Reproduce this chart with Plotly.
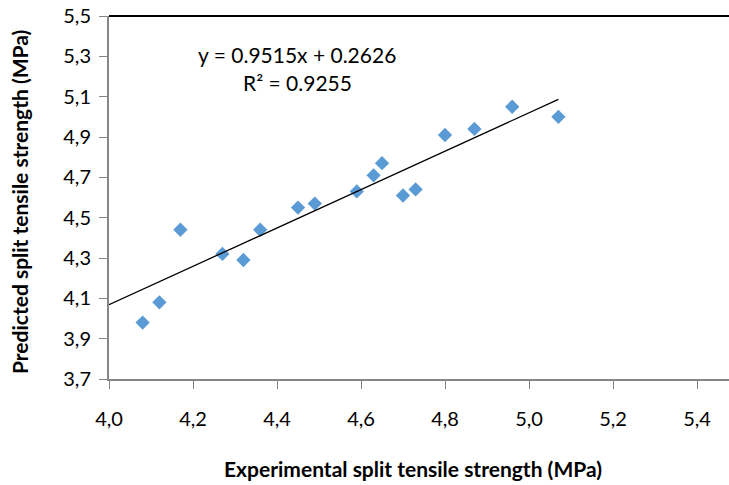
import plotly.graph_objects as go

experimental = [4.08, 4.12, 4.17, 4.27, 4.32, 4.36, 4.45, 4.49, 4.59, 4.63, 4.65, 4.70, 4.73, 4.80, 4.87, 4.96, 5.07]
predicted = [3.98, 4.08, 4.44, 4.32, 4.29, 4.44, 4.55, 4.57, 4.63, 4.71, 4.77, 4.61, 4.64, 4.91, 4.94, 5.05, 5.00]
slope = 0.9515
intercept = 0.2626
r_squared = 0.9255
trend_x = [4.0, 5.07]
x_ticks = [4.0, 4.2, 4.4, 4.6, 4.8, 5.0, 5.2, 5.4]
y_ticks = [3.7, 3.9, 4.1, 4.3, 4.5, 4.7, 4.9, 5.1, 5.3, 5.5]
x_title = "Experimental split tensile strength (MPa)"
y_title = "Predicted split tensile strength (MPa)"

trend_y = [slope * x + intercept for x in trend_x]

W, H = 729, 485
L, T, B = 109, 16, 106
PW, PH = W - L, H - T - B

def px(xp):
    return (xp - L) / PW

def py(yp):
    return 1 - (yp - T) / PH

FONT = "Lato"
fig = go.Figure()
fig.add_trace(go.Scatter(x=experimental, y=predicted, mode="markers",
                         marker=dict(symbol="diamond", size=11, color="#5B9BD5"),
                         showlegend=False))
fig.add_trace(go.Scatter(x=trend_x, y=trend_y, mode="lines",
                         line=dict(color="black", width=1.3), showlegend=False))

fig.add_annotation(xref="paper", yref="paper", x=px(297), y=py(55), xanchor="center", yanchor="middle",
                   text=f"y = {slope}x + {intercept}", showarrow=False,
                   font=dict(family=FONT, size=21, color="black"))
fig.add_annotation(xref="paper", yref="paper", x=px(297), y=py(82), xanchor="center", yanchor="middle",
                   text=f"R² = {r_squared}", showarrow=False,
                   font=dict(family=FONT, size=21, color="black"))
fig.add_annotation(xref="paper", yref="paper", x=px(413), y=py(468), xanchor="center", yanchor="middle",
                   text=f"<b>{x_title}</b>", showarrow=False,
                   font=dict(family=FONT, size=21, color="black"))
fig.add_annotation(xref="paper", yref="paper", x=px(20), y=py(202), xanchor="center", yanchor="middle",
                   text=f"<b>{y_title}</b>", showarrow=False, textangle=-90,
                   font=dict(family=FONT, size=21, color="black"))

fig.add_shape(type="line", xref="paper", yref="paper", x0=0, x1=1, y0=1, y1=1,
              line=dict(color="black", width=2))

fig.update_layout(
    width=W, height=H,
    margin=dict(l=L, r=0, t=T, b=B, autoexpand=False),
    plot_bgcolor="white", paper_bgcolor="white",
    separators=",.",
    font=dict(family=FONT, color="black"),
    xaxis=dict(range=[4.0, 4.0 + PW / 420], tickvals=x_ticks, tickformat=".1f",
               showgrid=False, zeroline=False, showline=True, linecolor="#868686", linewidth=2,
               ticks="outside", ticklen=8, tickcolor="#868686", tickwidth=1,
               ticklabelstandoff=13, automargin=False,
               tickfont=dict(family=FONT, size=20, color="black")),
    yaxis=dict(range=[3.7, 5.5], tickvals=y_ticks, tickformat=".1f",
               showgrid=False, zeroline=False, showline=True, linecolor="#868686", linewidth=2,
               ticks="outside", ticklen=8, tickcolor="#868686", tickwidth=1,
               ticklabelstandoff=4, automargin=False,
               tickfont=dict(family=FONT, size=20, color="black")),
)

fig.write_html("out.html", config={"displayModeBar": False},
               post_script="document.body.style.margin='0';document.body.style.overflow='hidden';")
